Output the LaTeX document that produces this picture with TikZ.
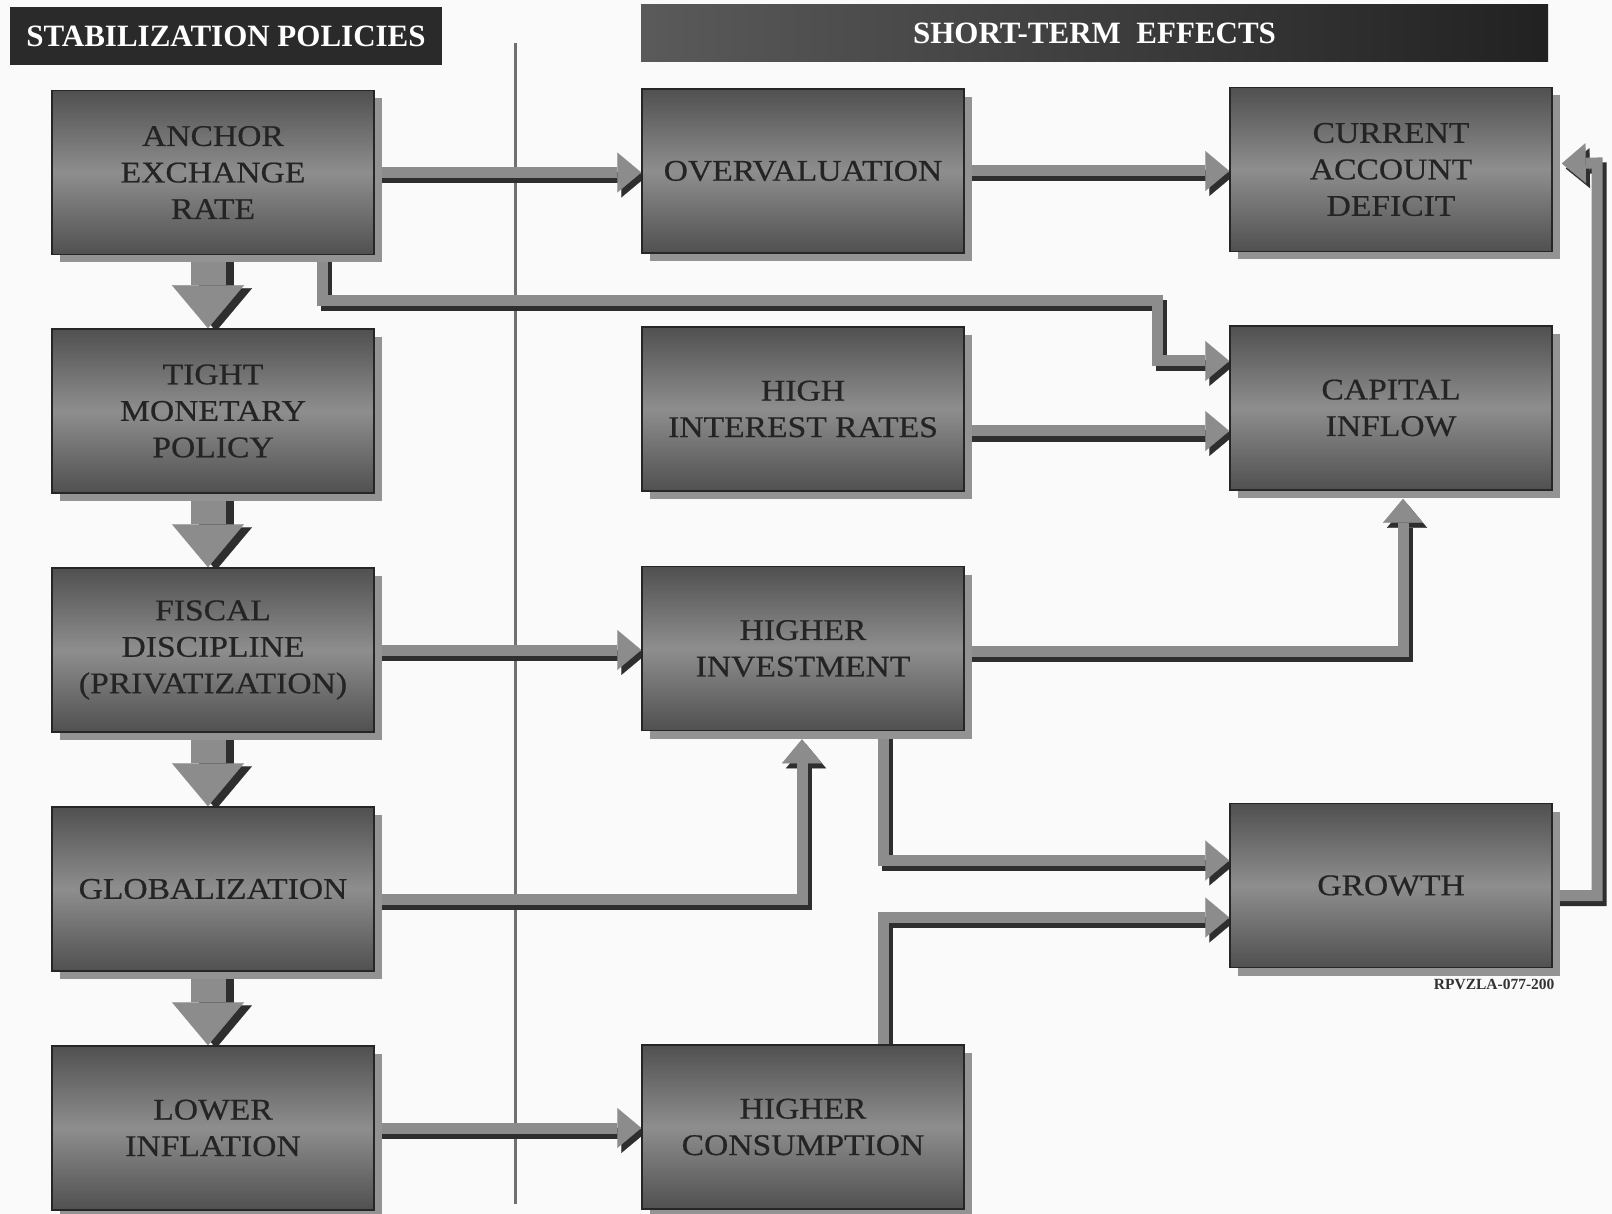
\documentclass[tikz,border=0pt]{standalone}
\usepackage{fontspec}
\newfontfamily\boxfont[FakeStretch=1.12,FakeBold=0.6]{Liberation Serif}
\newfontfamily\headfont{Liberation Serif}
\usetikzlibrary{arrows.meta,shadows,calc}

\definecolor{paper}{HTML}{FAFAFA}
\definecolor{boxdark}{HTML}{505050}
\definecolor{boxlight}{HTML}{8E8E8E}
\definecolor{boxedge}{HTML}{262626}
\definecolor{boxshade}{HTML}{939393}
\definecolor{boxtext}{HTML}{242424}
\definecolor{pipelight}{HTML}{8C8C8C}
\definecolor{pipedark}{HTML}{2E2E2E}
\definecolor{barfill}{HTML}{2A2A2A}
\definecolor{barlight}{HTML}{5A5A5A}
\definecolor{rulegrey}{HTML}{707070}
\definecolor{tagtext}{HTML}{333333}

\pgfdeclarelayer{back}
\pgfdeclarelayer{pipes}
\pgfsetlayers{back,pipes,main}

\tikzset{
  effect/.style={rectangle, minimum width=322pt, minimum height=164pt, inner sep=0pt,
    draw=boxedge, line width=1.5pt,
    top color=boxdark, bottom color=boxdark, middle color=boxlight,
    general shadow={fill=boxshade, shadow xshift=8pt, shadow yshift=-8pt},
    text=boxtext, align=center, font=\boxfont\fontsize{30}{36.5}\selectfont},
  titlebar/.style={rectangle, inner sep=0pt, text=white,
    font=\headfont\bfseries\fontsize{31}{36}\selectfont},
  pipebody/.style={draw=pipelight, line width=11pt, line join=miter,
    -{Triangle[length=24pt,width=40pt,line width=0.1pt]}},
  pipeshade/.style={pipebody, draw=pipedark, transform canvas={xshift=4pt,yshift=-5pt}},
  dropbody/.style={draw=pipelight, line width=35pt,
    -{Triangle[length=43pt,width=72pt,line width=0.1pt]}},
  dropshade/.style={dropbody, draw=pipedark, transform canvas={xshift=8pt,yshift=-3pt}},
  divider/.style={draw=rulegrey, line width=3pt},
}

% a raised connector: dark extrusion first, light face on top
\newcommand\fatlink[2][pipe]{\draw[#1shade] #2; \draw[#1body] #2;}

\begin{document}
\begin{tikzpicture}[x=1pt,y=-1pt]
\begin{pgfonlayer}{back}
  \fill[paper] (0,0) rectangle (1612,1214);
  \draw[divider] (515,43) -- (515,1204);
\end{pgfonlayer}
\useasboundingbox (0,0) rectangle (1612,1214);

% column headings
\node[titlebar, fill=barfill, minimum width=432pt, minimum height=58pt] (hpol) at (226,36) {STABILIZATION POLICIES};
\node[titlebar, left color=barlight, right color=barfill!80!black, minimum width=907pt, minimum height=57pt] (heff) at (1094.5,33.5) {SHORT-TERM\enspace EFFECTS};

% policies
\node[effect] (anchor)  at (213,172.5) {ANCHOR\\EXCHANGE\\RATE};
\node[effect] (tight)   at (213,411)   {TIGHT\\MONETARY\\POLICY};
\node[effect] (fiscal)  at (213,650)   {FISCAL\\DISCIPLINE\\(PRIVATIZATION)};
\node[effect] (glob)    at (213,889)   {GLOBALIZATION};
\node[effect] (lower)   at (213,1128)  {LOWER\\INFLATION};

% short-term effects
\node[effect] (overval)  at (803,171)    {OVERVALUATION};
\node[effect] (interest) at (803,409)    {HIGH\\INTEREST RATES};
\node[effect] (invest)   at (803,648.5)  {HIGHER\\INVESTMENT};
\node[effect] (consump)  at (803,1127)   {HIGHER\\CONSUMPTION};
\node[effect] (current)  at (1391,169.5) {CURRENT\\ACCOUNT\\DEFICIT};
\node[effect] (capital)  at (1391,408)   {CAPITAL\\INFLOW};
\node[effect] (growth)   at (1391,885.5) {GROWTH};

\node[anchor=base east, text=tagtext, font=\headfont\bfseries\fontsize{15.5}{18}\selectfont] (tag) at (1558,989) {RPVZLA-077-200};

% bend points of the routed connectors
\coordinate (capbendA) at (322,301);
\coordinate (capbendB) at (1157,301);
\coordinate (loopbend) at (1597,163);

\begin{pgfonlayer}{pipes}
  % policy sequence
  \fatlink[drop]{([xshift=-5pt]anchor.south) -- ([xshift=-5pt]tight.north)}
  \fatlink[drop]{([xshift=-5pt]tight.south) -- ([xshift=-5pt]fiscal.north)}
  \fatlink[drop]{([xshift=-5pt]fiscal.south) -- ([xshift=-5pt]glob.north)}
  \fatlink[drop]{([xshift=-5pt]glob.south) -- ([xshift=-5pt]lower.north)}

  % effects
  \fatlink{(anchor.east) -- (anchor.east -| overval.west)}
  \fatlink{(overval.east) -- (overval.east -| current.west)}
  \fatlink{(anchor.south -| capbendA) -- (capbendA) -- (capbendB) |- ([yshift=47pt]capital.west)}
  \fatlink{([yshift=-22pt]interest.east) -- ([yshift=-22pt]interest.east -| capital.west)}
  \fatlink{([yshift=-3pt]invest.east) -| ([xshift=12pt,yshift=-8pt]capital.south)}
  \fatlink{(fiscal.east) -- (fiscal.east -| invest.west)}
  \fatlink{([yshift=-10pt]glob.east) -| ([xshift=-1pt,yshift=-8pt]invest.south)}
  \fatlink{([xshift=80pt]invest.south) |- ([yshift=25pt]growth.west)}
  \fatlink{([xshift=80pt]consump.north) |- ([yshift=-32pt]growth.west)}
  \fatlink{([yshift=-10pt]growth.east) -| (loopbend) -- ([xshift=9pt,yshift=6pt]current.east)}
  \fatlink{(lower.east) -- (lower.east -| consump.west)}
\end{pgfonlayer}
\end{tikzpicture}
\end{document}
